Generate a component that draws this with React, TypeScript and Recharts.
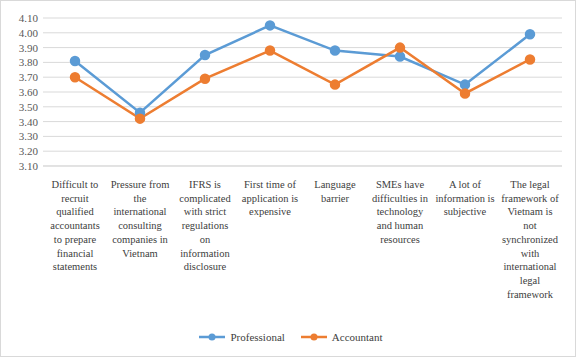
import React from 'react'
import { LineChart, Line, XAxis, YAxis, CartesianGrid, Legend } from 'recharts'

const categories = [
  'Difficult to recruit qualified accountants to prepare financial statements',
  'Pressure from the international consulting companies in Vietnam',
  'IFRS is complicated with strict regulations on information disclosure',
  'First time of application is expensive',
  'Language barrier',
  'SMEs have difficulties in technology and human resources',
  'A lot of information is subjective',
  'The legal framework of Vietnam is not synchronized with international legal framework',
]

// wrapped tick label lines, as in the picture
const labelLines = [
  ['Difficult to', 'recruit', 'qualified', 'accountants', 'to prepare', 'financial', 'statements'],
  ['Pressure from', 'the', 'international', 'consulting', 'companies in', 'Vietnam'],
  ['IFRS is', 'complicated', 'with strict', 'regulations', 'on', 'information', 'disclosure'],
  ['First time of', 'application is', 'expensive'],
  ['Language', 'barrier'],
  ['SMEs have', 'difficulties in', 'technology', 'and human', 'resources'],
  ['A lot of', 'information is', 'subjective'],
  ['The legal', 'framework of', 'Vietnam is', 'not', 'synchronized', 'with', 'international', 'legal', 'framework'],
]

const professional = [3.81, 3.46, 3.85, 4.05, 3.88, 3.84, 3.65, 3.99]
const accountant = [3.70, 3.42, 3.69, 3.88, 3.65, 3.90, 3.59, 3.82]

const yTicks = [3.1, 3.2, 3.3, 3.4, 3.5, 3.6, 3.7, 3.8, 3.9, 4.0, 4.1]

const data = categories.map((c, i) => ({
  name: c,
  Professional: professional[i],
  Accountant: accountant[i],
}))

const FONT = "'Liberation Serif', Tinos, 'Times New Roman', 'DejaVu Serif', 'Noto Serif', serif"
const BLUE = '#5b9bd5'
const ORANGE = '#ed7d31'

function CategoryTick({ x, y, index }: any) {
  const lines = labelLines[index] || []
  return (
    <text x={x} y={y} textAnchor="middle" style={{ fontFamily: FONT }} fontSize={10.5} fill="#404040">
      {lines.map((l, i) => (
        <tspan key={i} x={x} dy={i === 0 ? 20 : 13.7}>{l}</tspan>
      ))}
    </text>
  )
}

function LegendContent() {
  const items = [
    { label: 'Professional', color: BLUE },
    { label: 'Accountant', color: ORANGE },
  ]
  return (
    <div style={{ height: 41, display: 'flex', justifyContent: 'center', alignItems: 'center', gap: 16, paddingLeft: 20, fontFamily: FONT, fontSize: 11, color: '#404040' }}>
      {items.map(it => (
        <div key={it.label} style={{ display: 'flex', alignItems: 'center', gap: 5 }}>
          <svg width={26} height={10}>
            <line x1={0} y1={5} x2={26} y2={5} stroke={it.color} strokeWidth={2.5} />
            <circle cx={13} cy={5} r={3.5} fill={it.color} />
          </svg>
          <span>{it.label}</span>
        </div>
      ))}
    </div>
  )
}

export default function App() {
  return (
    <div style={{ position: 'fixed', left: 0, top: 0, width: 576, height: 357, background: '#fff', fontFamily: FONT }}>
      <LineChart width={576} height={357} data={data} margin={{ top: 18, right: 14, left: 0, bottom: 0 }} style={{ fontFamily: FONT }}>
        <CartesianGrid vertical={false} stroke="#d9d9d9" />
        <XAxis
          dataKey="name"
          interval={0}
          height={150}
          padding={{ left: 32, right: 32 }}
          axisLine={{ stroke: '#d9d9d9' }}
          tickLine={false}
          tickSize={0}
          tick={<CategoryTick />}
        />
        <YAxis
          width={43}
          domain={[3.1, 4.1]}
          ticks={yTicks}
          interval={0}
          axisLine={false}
          tickLine={false}
          tickSize={0}
          tickMargin={5}
          tickFormatter={(v: number) => v.toFixed(2)}
          tick={{ fontSize: 11, fill: '#595959', style: { fontFamily: FONT } }}
        />
        <Legend verticalAlign="bottom" height={41} content={<LegendContent />} />
        <Line dataKey="Professional" stroke={BLUE} strokeWidth={2.5} dot={{ r: 4, fill: BLUE, stroke: BLUE }} isAnimationActive={false} />
        <Line dataKey="Accountant" stroke={ORANGE} strokeWidth={2.5} dot={{ r: 4, fill: ORANGE, stroke: ORANGE }} isAnimationActive={false} />
      </LineChart>
      <div style={{ position: 'absolute', inset: 0, border: '1px solid #d9d9d9', pointerEvents: 'none' }} />
    </div>
  )
}
